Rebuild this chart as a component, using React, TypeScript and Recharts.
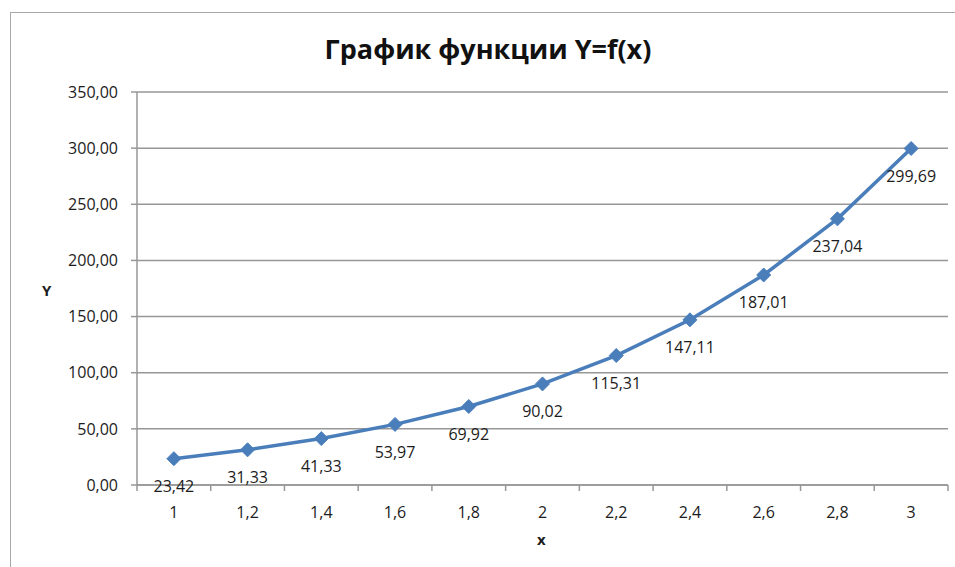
import React from "react";
import { LineChart, Line, XAxis, YAxis, CartesianGrid, LabelList } from "recharts";

const xValues = [1, 1.2, 1.4, 1.6, 1.8, 2, 2.2, 2.4, 2.6, 2.8, 3];
const yValues = [23.42, 31.33, 41.33, 53.97, 69.92, 90.02, 115.31, 147.11, 187.01, 237.04, 299.69];
const yTicks = [0, 50, 100, 150, 200, 250, 300, 350];
// category borders, where Excel draws its x tick marks
const xBorders = [0.9, 1.1, 1.3, 1.5, 1.7, 1.9, 2.1, 2.3, 2.5, 2.7, 2.9, 3.1];

const data = xValues.map((x, i) => ({ x, y: yValues[i] }));

const W = 955;
const H = 567;
const margin = { top: 92, right: 7, bottom: 52, left: 57 };
const yAxisW = 80;
const xAxisH = 30;
const plotBottom = H - margin.bottom - xAxisH;

const FONT = "'Open Sans', 'Noto Sans', sans-serif";
const TEXT = "#1c1c1c";
const GRID = "#979797";
const LINE = "#4A7EBB";

const comma = (v: number, d: number) => v.toFixed(d).replace(".", ",");

const allXTicks = [...xBorders, ...xValues].sort((a, b) => a - b);

const XTick = (props: any) => {
  const { x, payload } = props;
  const v = payload.value;
  if (xValues.includes(v)) {
    return (
      <text x={x} y={plotBottom + 27} textAnchor="middle" dominantBaseline="central"
        fontFamily={FONT} fontSize={16} fill={TEXT}>
        {comma(v, 1).replace(/,0$/, "")}
      </text>
    );
  }
  return <line x1={x} x2={x} y1={plotBottom} y2={plotBottom + 6} stroke={GRID} strokeWidth={1.5} />;
};

const Diamond = (props: any) => {
  const { cx, cy, index } = props;
  const r = 7;
  return (
    <path key={"d" + index}
      d={`M${cx},${cy - r}L${cx + r},${cy}L${cx},${cy + r}L${cx - r},${cy}Z`}
      fill={LINE} stroke={LINE} strokeWidth={1} />
  );
};

export default function App() {
  return (
    <div style={{ position: "absolute", left: 0, top: 0, width: W, height: H, overflow: "hidden", background: "#fff" }}>
      <div style={{ position: "absolute", left: 10, top: 12, width: 980, height: 600, border: "1.5px solid #a8a8a8" }} />
      <div style={{ position: "absolute", left: 0, top: 30, width: 976, textAlign: "center", fontFamily: FONT, fontWeight: 700, fontSize: 27, color: "#111" }}>
        График функции Y=f(x)
      </div>
      <div style={{ position: "absolute", left: 42, top: 280, fontFamily: FONT, fontWeight: 700, fontSize: 15, color: TEXT }}>Y</div>
      <div style={{ position: "absolute", left: 537, top: 529, fontFamily: FONT, fontWeight: 700, fontSize: 15, color: TEXT }}>x</div>
      <div style={{ position: "absolute", left: 0, top: 0 }}>
        <LineChart width={W} height={H} data={data} margin={margin}>
          <CartesianGrid vertical={false} stroke={GRID} strokeWidth={1.5} />
          <XAxis dataKey="x" type="number" domain={[0.9, 3.1]} ticks={allXTicks} interval={0}
            height={xAxisH} tickLine={false} axisLine={{ stroke: GRID, strokeWidth: 1.5 }}
            tick={<XTick />} allowDataOverflow />
          <YAxis type="number" domain={[0, 350]} ticks={yTicks} interval={0} width={yAxisW}
            tickFormatter={(v: number) => comma(v, 2)} tickSize={6} tickMargin={13}
            axisLine={{ stroke: GRID, strokeWidth: 1.5 }} tickLine={{ stroke: GRID, strokeWidth: 1.5 }}
            tick={{ fontFamily: FONT, fontSize: 16, fill: TEXT }} />
          <Line dataKey="y" type="linear" stroke={LINE} strokeWidth={3.5} dot={Diamond}
            activeDot={false} isAnimationActive={false}>
            <LabelList dataKey="y" position="bottom" offset={22}
              formatter={(v: any) => comma(Number(v), 2)}
              style={{ fontFamily: FONT, fontSize: 16, fill: TEXT }} />
          </Line>
        </LineChart>
      </div>
    </div>
  );
}
